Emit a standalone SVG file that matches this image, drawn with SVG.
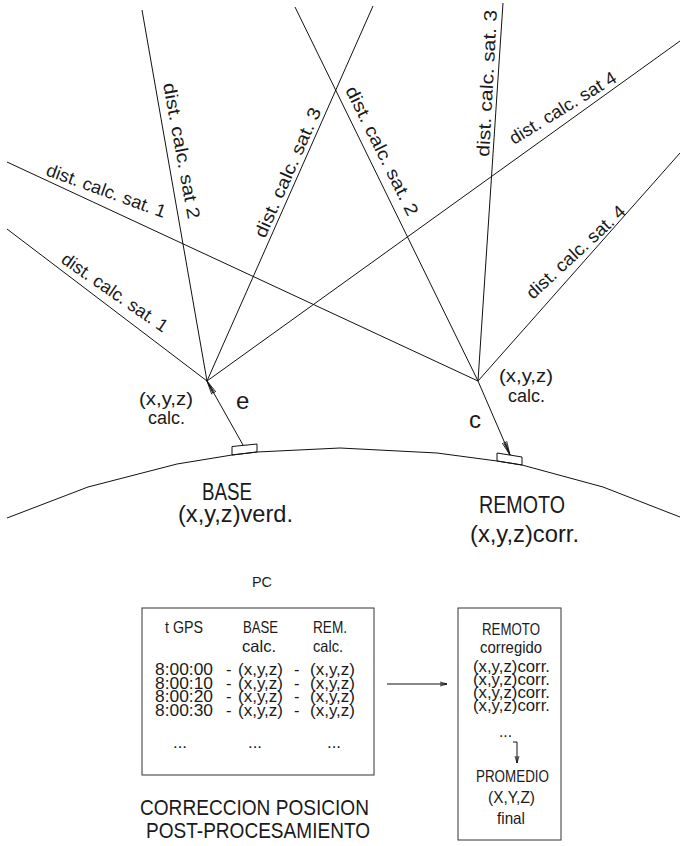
<svg xmlns="http://www.w3.org/2000/svg" width="680" height="846" viewBox="0 0 680 846">
<style>
  .ln{stroke:#111;stroke-width:1;fill:none}
  .box{stroke:#333;stroke-width:1;fill:none}
  text{font-family:"Liberation Sans",Arial,sans-serif;fill:#1a1a1a}
  .lb{font-size:18px}
  .big{font-size:24px}
  .mid{font-size:18px}
  .tb{font-size:16.5px}
  .cap{font-size:22px}
</style>
<defs>
  <marker id="fl" viewBox="-15 -4 16 8" refX="0" refY="0" markerWidth="16" markerHeight="8" markerUnits="userSpaceOnUse" orient="auto">
    <path d="M0,0 L-14,-2.4 M0,0 L-14,2.4 M0,0 L-14,-0.9 M0,0 L-14,0.9" stroke="#111" stroke-width="0.8" fill="none"/>
  </marker>
  <marker id="sm" viewBox="-8 -3 9 6" refX="0" refY="0" markerWidth="9" markerHeight="6" markerUnits="userSpaceOnUse" orient="auto">
    <path d="M0,0 L-7,-2 M0,0 L-7,2 M0,0 L-7,0" stroke="#111" stroke-width="0.8" fill="none"/>
  </marker>
</defs>
<rect width="680" height="846" fill="#fff"/>

<g id="connectors">
  <!-- satellite distance lines to BASE point -->
  <line class="ln" x1="7" y1="229" x2="207" y2="381"/>
  <line class="ln" x1="142" y1="10" x2="207" y2="381"/>
  <line class="ln" x1="373" y1="6" x2="207" y2="381"/>
  <line class="ln" x1="680" y1="41" x2="207" y2="381"/>
  <!-- satellite distance lines to REMOTO point -->
  <line class="ln" x1="7" y1="162" x2="478" y2="381"/>
  <line class="ln" x1="295" y1="7" x2="478" y2="381"/>
  <line class="ln" x1="503" y1="3" x2="478" y2="381"/>
  <line class="ln" x1="680" y1="153" x2="478" y2="381"/>
  <!-- error / correction arrows -->
  <line class="ln" x1="243" y1="445" x2="207" y2="381" marker-end="url(#fl)"/>
  <line class="ln" x1="478" y1="381" x2="510" y2="455" marker-end="url(#fl)"/>
  <!-- arrow between boxes -->
  <line class="ln" x1="387" y1="684" x2="447" y2="684" marker-end="url(#sm)"/>
  <!-- small connector inside right box -->
  <path class="ln" d="M513,742 L517,742 L517,763" marker-end="url(#sm)"/>
</g>

<g id="ground">
  <polyline class="ln" points="7,518 88,487 177,464 232,455 257,452 340,448 437,453 497,461 522,465 603,487 680,517"/>
</g>

<g id="base-station">
  <polygon class="ln" points="232,455 232,446.5 257,444 257,452"/>
</g>
<g id="remote-station">
  <polygon class="ln" points="497,461 497,453 522,457 522,465"/>
</g>

<g id="labels-sat">
  <text class="lb" transform="translate(45,175) rotate(20)" textLength="126" lengthAdjust="spacingAndGlyphs">dist. calc. sat. 1</text>
  <text class="lb" transform="translate(60,262) rotate(34.6)" textLength="125" lengthAdjust="spacingAndGlyphs">dist. calc. sat. 1</text>
  <text class="lb" transform="translate(163,84) rotate(79.5)" textLength="138" lengthAdjust="spacingAndGlyphs">dist. calc. sat 2</text>
  <text class="lb" transform="translate(265,239) rotate(-66.2)" textLength="140" lengthAdjust="spacingAndGlyphs">dist. calc. sat. 3</text>
  <text class="lb" transform="translate(345,90) rotate(63.6)" textLength="142" lengthAdjust="spacingAndGlyphs">dist. calc. sat. 2</text>
  <text class="lb" transform="translate(489,157) rotate(-86.9)" textLength="147" lengthAdjust="spacingAndGlyphs">dist. calc. sat. 3</text>
  <text class="lb" transform="translate(514,145) rotate(-31.6)" textLength="122" lengthAdjust="spacingAndGlyphs">dist. calc. sat 4</text>
  <text class="lb" transform="translate(533,300) rotate(-42.8)" textLength="128" lengthAdjust="spacingAndGlyphs">dist. calc. sat. 4</text>
</g>

<g id="base-calc">
  <text class="mid" x="139" y="405" textLength="54" lengthAdjust="spacingAndGlyphs">(x,y,z)</text>
  <text class="mid" x="148" y="424" textLength="37" lengthAdjust="spacingAndGlyphs">calc.</text>
  <text x="236" y="409" font-size="24">e</text>
</g>
<g id="remote-calc">
  <text class="mid" x="499" y="382" textLength="54" lengthAdjust="spacingAndGlyphs">(x,y,z)</text>
  <text class="mid" x="508" y="402" textLength="37" lengthAdjust="spacingAndGlyphs">calc.</text>
  <text x="469" y="428" font-size="24">c</text>
</g>

<g id="base-label">
  <text class="big" x="202" y="500" textLength="50" lengthAdjust="spacingAndGlyphs">BASE</text>
  <text class="big" x="178" y="522" textLength="115" lengthAdjust="spacingAndGlyphs">(x,y,z)verd.</text>
</g>
<g id="remote-label">
  <text class="big" x="479" y="513" textLength="86" lengthAdjust="spacingAndGlyphs">REMOTO</text>
  <text class="big" x="470" y="542" textLength="109" lengthAdjust="spacingAndGlyphs">(x,y,z)corr.</text>
</g>

<g id="pc-box">
  <text x="252" y="587" font-size="15" textLength="20" lengthAdjust="spacingAndGlyphs">PC</text>
  <rect class="box" x="142" y="608" width="232" height="167"/>
  <text class="tb" x="165" y="633" textLength="38" lengthAdjust="spacingAndGlyphs">t GPS</text>
  <text class="tb" x="243" y="633" textLength="35" lengthAdjust="spacingAndGlyphs">BASE</text>
  <text class="tb" x="313" y="633" textLength="34" lengthAdjust="spacingAndGlyphs">REM.</text>
  <text class="tb" x="242" y="652" textLength="34" lengthAdjust="spacingAndGlyphs">calc.</text>
  <text class="tb" x="313" y="652" textLength="30" lengthAdjust="spacingAndGlyphs">calc.</text>

  <text class="tb" x="155" y="675" textLength="58" lengthAdjust="spacingAndGlyphs">8:00:00</text>
  <text class="tb" x="226" y="675">-</text>
  <text class="tb" x="238" y="675" textLength="45" lengthAdjust="spacingAndGlyphs">(x,y,z)</text>
  <text class="tb" x="294" y="675">-</text>
  <text class="tb" x="310" y="675" textLength="45" lengthAdjust="spacingAndGlyphs">(x,y,z)</text>

  <text class="tb" x="155" y="688.5" textLength="58" lengthAdjust="spacingAndGlyphs">8:00:10</text>
  <text class="tb" x="226" y="688.5">-</text>
  <text class="tb" x="238" y="688.5" textLength="45" lengthAdjust="spacingAndGlyphs">(x,y,z)</text>
  <text class="tb" x="294" y="688.5">-</text>
  <text class="tb" x="310" y="688.5" textLength="45" lengthAdjust="spacingAndGlyphs">(x,y,z)</text>

  <text class="tb" x="155" y="702" textLength="58" lengthAdjust="spacingAndGlyphs">8:00:20</text>
  <text class="tb" x="226" y="702">-</text>
  <text class="tb" x="238" y="702" textLength="45" lengthAdjust="spacingAndGlyphs">(x,y,z)</text>
  <text class="tb" x="294" y="702">-</text>
  <text class="tb" x="310" y="702" textLength="45" lengthAdjust="spacingAndGlyphs">(x,y,z)</text>

  <text class="tb" x="155" y="715.5" textLength="58" lengthAdjust="spacingAndGlyphs">8:00:30</text>
  <text class="tb" x="226" y="715.5">-</text>
  <text class="tb" x="238" y="715.5" textLength="45" lengthAdjust="spacingAndGlyphs">(x,y,z)</text>
  <text class="tb" x="294" y="715.5">-</text>
  <text class="tb" x="310" y="715.5" textLength="45" lengthAdjust="spacingAndGlyphs">(x,y,z)</text>

  <text class="tb" x="173" y="748" textLength="14" lengthAdjust="spacingAndGlyphs">...</text>
  <text class="tb" x="248" y="748" textLength="14" lengthAdjust="spacingAndGlyphs">...</text>
  <text class="tb" x="327" y="748" textLength="14" lengthAdjust="spacingAndGlyphs">...</text>

  <text class="cap" x="140" y="815" textLength="229" lengthAdjust="spacingAndGlyphs">CORRECCION POSICION</text>
  <text class="cap" x="146" y="838" textLength="224" lengthAdjust="spacingAndGlyphs">POST-PROCESAMIENTO</text>
</g>

<g id="result-box">
  <rect class="box" x="458" y="608" width="103" height="232"/>
  <text class="tb" x="482" y="635" textLength="58" lengthAdjust="spacingAndGlyphs">REMOTO</text>
  <text class="tb" x="480" y="653" textLength="62" lengthAdjust="spacingAndGlyphs">corregido</text>
  <text class="tb" x="473" y="672" textLength="77" lengthAdjust="spacingAndGlyphs">(x,y,z)corr.</text>
  <text class="tb" x="473" y="685" textLength="77" lengthAdjust="spacingAndGlyphs">(x,y,z)corr.</text>
  <text class="tb" x="473" y="698" textLength="77" lengthAdjust="spacingAndGlyphs">(x,y,z)corr.</text>
  <text class="tb" x="473" y="711" textLength="77" lengthAdjust="spacingAndGlyphs">(x,y,z)corr.</text>
  <text class="tb" x="499" y="737" textLength="13" lengthAdjust="spacingAndGlyphs">...</text>
  <text class="tb" x="476" y="782" textLength="73" lengthAdjust="spacingAndGlyphs">PROMEDIO</text>
  <text class="tb" x="488" y="803" textLength="47" lengthAdjust="spacingAndGlyphs">(X,Y,Z)</text>
  <text class="tb" x="497" y="824" textLength="28" lengthAdjust="spacingAndGlyphs">final</text>
</g>
</svg>
